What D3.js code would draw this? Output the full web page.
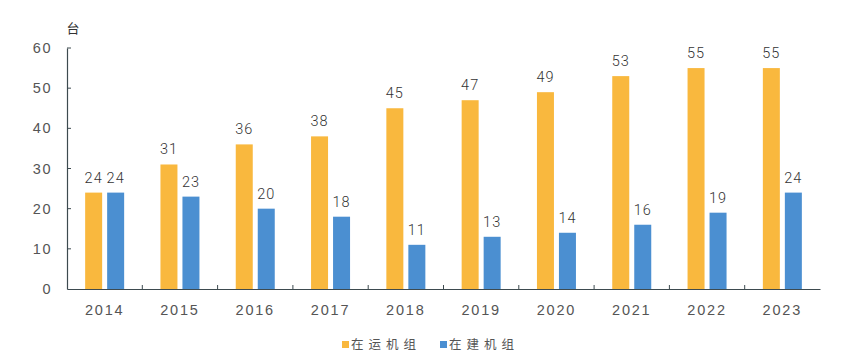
<!DOCTYPE html>
<html><head><meta charset="utf-8">
<script src="https://cdn.jsdelivr.net/npm/d3@7"></script>
<style>body{margin:0;background:#fff;}svg{display:block;font-family:"Roboto","Noto Sans","Noto Sans CJK SC",sans-serif;}
.num{font-weight:300;}</style>
</head><body>
<svg id="c" width="864" height="357"></svg>
<script>
const years = ["2014","2015","2016","2017","2018","2019","2020","2021","2022","2023"];
const operating = [24,31,36,38,45,47,49,53,55,55];
const building = [24,23,20,18,11,13,14,16,19,24];
const seriesNames = ["在运机组","在建机组"];
const colors = ["#F9B83E","#4B8FD1"];
const yTicks = [0,10,20,30,40,50,60];
const unit = "台";

const svg = d3.select("#c");
const L = 67, R = 820, T = 48, B = 289;
const x = d3.scaleBand().domain(years).range([L, R]);
const y = d3.scaleLinear().domain([0,60]).range([B, T]);
const barW = 17, gap = 5;
const axisCol = "#3d4a4f";

// y axis
const ya = svg.append("g").attr("transform",`translate(${L},0)`)
  .call(d3.axisLeft(y).tickValues(yTicks).tickSize(0).tickPadding(15));
ya.select(".domain").attr("stroke",axisCol).attr("stroke-width",1.2);
ya.selectAll("text").attr("class","num").attr("fill","#555").attr("font-size",14.5).style("letter-spacing","1.5px");
svg.append("g").selectAll("line").data(yTicks.slice(1)).join("line")
  .attr("x1",L).attr("x2",L+4).attr("y1",d=>y(d)).attr("y2",d=>y(d)).attr("stroke",axisCol);

// x axis
const xa = svg.append("g").attr("transform",`translate(0,${B})`)
  .call(d3.axisBottom(x).tickSize(0).tickPadding(16));
xa.select(".domain").attr("stroke",axisCol).attr("stroke-width",1.2);
xa.selectAll("text").attr("class","num").attr("fill","#555").attr("font-size",14.5).style("letter-spacing","1.8px");
svg.append("g").selectAll("line").data(years.slice(1)).join("line")
  .attr("x1",d=>x(d)).attr("x2",d=>x(d)).attr("y1",B).attr("y2",B-4)
  .attr("stroke",axisCol);

svg.append("text").attr("x",73).attr("y",33).attr("font-size",13).attr("fill","#333")
  .attr("text-anchor","middle").text(unit);

const series = [operating, building];
series.forEach((vals, si) => {
  const g = svg.append("g");
  const cx = (d,i) => x(years[i]) + x.bandwidth()/2 + (si===0 ? -gap/2-barW : gap/2);
  g.selectAll("rect").data(vals).join("rect")
    .attr("x",(d,i)=>cx(d,i)).attr("width",barW)
    .attr("y",d=>y(d)).attr("height",d=>B-y(d)).attr("fill",colors[si]);
  g.selectAll("text").data(vals).join("text").attr("class","num")
    .attr("x",(d,i)=>cx(d,i)+barW/2).attr("y",d=>y(d)-10)
    .attr("text-anchor","middle").attr("font-size",14.5).attr("fill","#333")
    .style("letter-spacing","1px").text(d=>d);
});

// legend
const lg = svg.append("g");
const lx = [342, 440];
seriesNames.forEach((n,i)=>{
  lg.append("rect").attr("x",lx[i]).attr("y",341).attr("width",7).attr("height",7).attr("fill",colors[i]);
  lg.append("text").attr("x",lx[i]+9).attr("y",349).attr("font-size",12.5).attr("fill","#555")
    .style("letter-spacing","5px").text(n);
});
</script>
</body></html>
